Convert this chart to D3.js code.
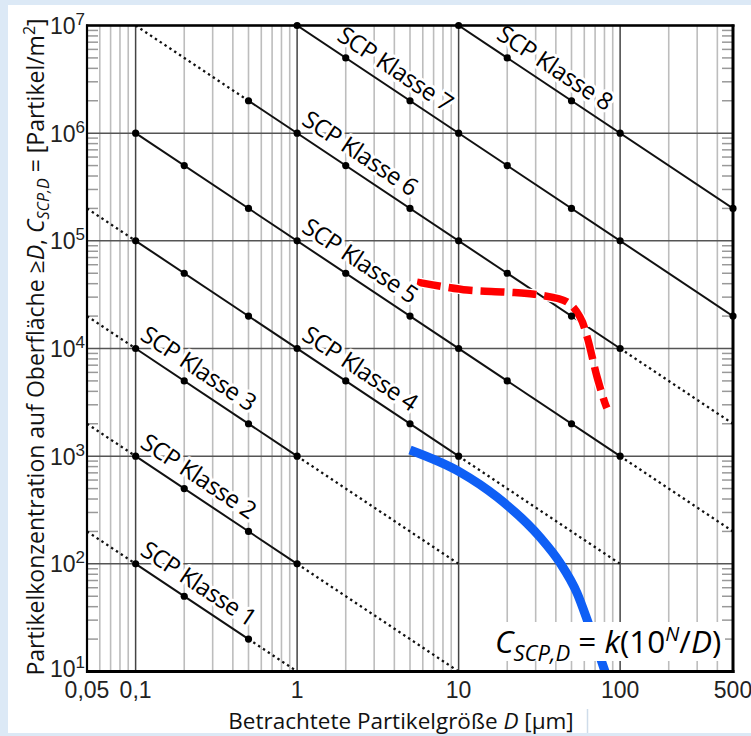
<!DOCTYPE html>
<html>
<head>
<meta charset="utf-8">
<script src="https://cdn.jsdelivr.net/npm/d3@7"></script>
<style>
  body { margin: 0; background: #dce9f6; }
  svg { display: block; }
</style>
</head>
<body>
<div id="chart"></div>
<script>
// SCP classes, C = 10^N / D
var classes = [1, 2, 3, 4, 5, 6, 7, 8];
var solidFrom = [0.1, 0.1, 0.1, 0.1, 0.1, 0.5, 1, 10];
var solidTo = [0.5, 1, 1, 10, 100, 100, 500, 500];
var dottedBefore = [0.05, 0.05, 0.05, 0.05, null, 0.1, null, null];
var dottedAfter = [1, 10, 10, 100, 500, 500, null, null];
var markerD = [0.1, 0.2, 0.5, 1, 2, 5, 10, 20, 50, 100, 500];
var labelD = [0.097, 0.097, 0.097, 0.97, 0.97, 0.97, 1.6, 15.6];

var xTicks = [0.05, 0.1, 1, 10, 100, 500];
var xTickLabels = ["0,05", "0,1", "1", "10", "100", "500"];
var yExponents = [1, 2, 3, 4, 5, 6, 7];

// measured curves
var blueD = [5.0, 10.2, 17.3, 31.9, 42.5, 54.1, 63.2, 80.6];
var blueC = [1140, 711, 417, 177, 102, 53.5, 28.8, 10];
var redD = [5.53, 11.3, 20, 32, 47, 56.5, 62.5, 72, 80.6, 82.8];
var redC = [41400, 34900, 33400, 31300, 27000, 19600, 12800, 5430, 3110, 2800];

var width = 751, height = 736;
var pL = 87, pR = 733, pT = 25.5, pB = 671.5;

var svg = d3.select("#chart").append("svg")
  .attr("width", width)
  .attr("height", height);

svg.append("rect").attr("width", width).attr("height", height).attr("fill", "#dce9f6");
svg.append("rect").attr("x", 8).attr("y", 5).attr("width", width - 8).attr("height", 728).attr("fill", "#fff");
svg.append("line").attr("x1", 587.5).attr("x2", 587.5).attr("y1", 709).attr("y2", 733)
  .attr("stroke", "#cfdcea").attr("stroke-width", 1.5);

var x = d3.scaleLog().domain([0.05, 500]).range([pL, pR]);
var y = d3.scaleLog().domain([10, 1e7]).range([pB, pT]);

svg.append("clipPath").attr("id", "plot")
  .append("rect").attr("x", pL).attr("y", pT).attr("width", pR - pL).attr("height", pB - pT);

// grid
var minorX = [], majorX = [0.1, 1, 10, 100], minorY = [];
for (var k = -2; k <= 2; k++) {
  for (var m = 2; m <= 9; m++) {
    var v = m * Math.pow(10, k);
    if (v > 0.05 && v < 500) minorX.push(v);
  }
}
for (var k2 = 1; k2 <= 6; k2++) {
  for (var m2 = 2; m2 <= 9; m2++) minorY.push(m2 * Math.pow(10, k2));
}

var grid = svg.append("g");
grid.selectAll("line.minx").data(minorX).enter().append("line")
  .attr("x1", d => x(d)).attr("x2", d => x(d)).attr("y1", pT).attr("y2", pB)
  .attr("stroke", "#bdbdbd").attr("stroke-width", 1.6);
grid.selectAll("line.majx").data(majorX).enter().append("line")
  .attr("x1", d => x(d)).attr("x2", d => x(d)).attr("y1", pT).attr("y2", pB)
  .attr("stroke", "#444").attr("stroke-width", 1.5);
grid.selectAll("line.majy").data(yExponents).enter().append("line")
  .attr("x1", pL).attr("x2", pR).attr("y1", d => y(Math.pow(10, d))).attr("y2", d => y(Math.pow(10, d)))
  .attr("stroke", "#555").attr("stroke-width", 1.5);
grid.selectAll("line.tl").data(minorY).enter().append("line")
  .attr("x1", pL).attr("x2", pL + 11).attr("y1", d => y(d)).attr("y2", d => y(d))
  .attr("stroke", "#999").attr("stroke-width", 1.5);
grid.selectAll("line.tr").data(minorY).enter().append("line")
  .attr("x1", pR - 11).attr("x2", pR).attr("y1", d => y(d)).attr("y2", d => y(d))
  .attr("stroke", "#999").attr("stroke-width", 1.5);

// class lines
var plot = svg.append("g").attr("clip-path", "url(#plot)");
var line = d3.line().x(d => x(d[0])).y(d => y(d[1]));

classes.forEach(function(n, i) {
  var f = D => Math.pow(10, n) / D;
  if (dottedBefore[i] != null) {
    plot.append("path").attr("d", line([[dottedBefore[i], f(dottedBefore[i])], [solidFrom[i], f(solidFrom[i])]]))
      .attr("fill", "none").attr("stroke", "#111").attr("stroke-width", 2.3).attr("stroke-dasharray", "2.4,3.4");
  }
  if (dottedAfter[i] != null) {
    plot.append("path").attr("d", line([[solidTo[i], f(solidTo[i])], [dottedAfter[i], f(dottedAfter[i])]]))
      .attr("fill", "none").attr("stroke", "#111").attr("stroke-width", 2.3).attr("stroke-dasharray", "2.4,3.4");
  }
  plot.append("path").attr("d", line([[solidFrom[i], f(solidFrom[i])], [solidTo[i], f(solidTo[i])]]))
    .attr("fill", "none").attr("stroke", "#111").attr("stroke-width", 2);
});

// markers
classes.forEach(function(n, i) {
  var pts = markerD.filter(D => D >= solidFrom[i] && D <= solidTo[i]);
  svg.selectAll(null).data(pts).enter().append("circle")
    .attr("cx", D => x(D)).attr("cy", D => y(Math.pow(10, n) / D))
    .attr("r", 3.6).attr("fill", "#000");
});

// labels along the lines
var ang = Math.atan((y(10) - y(100)) / (x(10) - x(1)));
var deg = ang * 180 / Math.PI;
var off = 10;
classes.forEach(function(n, i) {
  var D0 = labelD[i];
  var px = x(D0) + off * Math.sin(ang);
  var py = y(Math.pow(10, n) / D0) - off * Math.cos(ang);
  svg.append("text")
    .attr("transform", "translate(" + px + "," + py + ") rotate(" + deg + ")")
    .attr("font-family", "Open Sans").attr("font-size", 24)
    .attr("fill", "#000").attr("stroke", "#fff").attr("stroke-width", 6)
    .attr("stroke-linejoin", "round").attr("paint-order", "stroke")
    .attr("letter-spacing", -0.6)
    .text("SCP Klasse " + n);
});

// measured curves
var curveLine = d3.line().x(d => x(d[0])).y(d => y(d[1]));
plot.append("path")
  .attr("d", curveLine.curve(d3.curveMonotoneX)(blueD.map((d, i) => [d, blueC[i]])))
  .attr("fill", "none").attr("stroke", "#0f5ff5").attr("stroke-width", 9);

var redPath = curveLine.curve(d3.curveCatmullRom)(redD.map((d, i) => [d, redC[i]]));
plot.append("path").attr("d", redPath)
  .attr("fill", "none").attr("stroke", "#fff").attr("stroke-width", 10).attr("stroke-dasharray", "24,8");
plot.append("path").attr("d", redPath)
  .attr("fill", "none").attr("stroke", "#ff0000").attr("stroke-width", 7.5).attr("stroke-dasharray", "24,8");

// frame
svg.append("line").attr("x1", pL).attr("x2", pL).attr("y1", pT - 1).attr("y2", pB + 1.5).attr("stroke", "#000").attr("stroke-width", 2.2);
svg.append("line").attr("x1", pR).attr("x2", pR).attr("y1", pT - 1).attr("y2", pB + 1.5).attr("stroke", "#000").attr("stroke-width", 3);
svg.append("line").attr("x1", pL - 1).attr("x2", pR + 1.5).attr("y1", pT).attr("y2", pT).attr("stroke", "#000").attr("stroke-width", 2.4);
svg.append("line").attr("x1", pL - 1).attr("x2", pR + 1.5).attr("y1", pB).attr("y2", pB).attr("stroke", "#000").attr("stroke-width", 3);

// formula box
svg.append("rect").attr("x", 493).attr("y", 622).attr("width", 232).attr("height", 39).attr("fill", "#fff");
var ft = svg.append("text").attr("x", 495).attr("y", 653)
  .attr("font-family", "Open Sans").attr("font-size", 31.5).attr("fill", "#000");
ft.append("tspan").attr("font-style", "italic").text("C");
ft.append("tspan").attr("font-style", "italic").attr("font-size", 22).attr("dy", 8).text("SCP,D");
ft.append("tspan").attr("dy", -8).text(" = ");
ft.append("tspan").attr("font-style", "italic").text("k");
ft.append("tspan").text("(10");
ft.append("tspan").attr("font-style", "italic").attr("font-size", 20).attr("dy", -12).text("N");
ft.append("tspan").attr("dy", 12).text("/");
ft.append("tspan").attr("font-style", "italic").text("D");
ft.append("tspan").text(")");

// x tick labels
svg.selectAll("text.xt").data(xTicks).enter().append("text")
  .attr("x", d => x(d)).attr("y", pB + 26)
  .attr("text-anchor", "middle")
  .attr("font-family", "Liberation Sans").attr("font-size", 23).attr("fill", "#222")
  .text((d, i) => xTickLabels[i]);

// y tick labels
yExponents.forEach(function(e) {
  var t = svg.append("text").attr("x", 85).attr("y", y(Math.pow(10, e)) + (e === 1 ? 5.5 : 8.5))
    .attr("text-anchor", "end")
    .attr("font-family", "Liberation Sans").attr("font-size", 23).attr("fill", "#222");
  t.append("tspan").text("10");
  t.append("tspan").attr("font-size", 17).attr("dy", -9).text(e);
});

// axis titles
var xt = svg.append("text").attr("x", 401).attr("y", 729)
  .attr("text-anchor", "middle").attr("font-family", "Open Sans").attr("font-size", 22.5).attr("fill", "#111");
xt.append("tspan").text("Betrachtete Partikelgröße ");
xt.append("tspan").attr("font-style", "italic").text("D");
xt.append("tspan").text(" [µm]");

var yt = svg.append("text").attr("transform", "translate(44,347) rotate(-90)")
  .attr("text-anchor", "middle").attr("font-family", "Open Sans").attr("font-size", 23).attr("fill", "#111");
yt.append("tspan").text("Partikelkonzentration auf Oberfläche ≥");
yt.append("tspan").attr("font-style", "italic").text("D");
yt.append("tspan").text(", ");
yt.append("tspan").attr("font-style", "italic").text("C");
yt.append("tspan").attr("font-style", "italic").attr("font-size", 16).attr("dy", 5).text("SCP,D");
yt.append("tspan").attr("dy", -5).text(" = [Partikel/m");
yt.append("tspan").attr("font-size", 16).attr("dy", -9).text("2");
yt.append("tspan").attr("dy", 9).text("]");
</script>
</body>
</html>
